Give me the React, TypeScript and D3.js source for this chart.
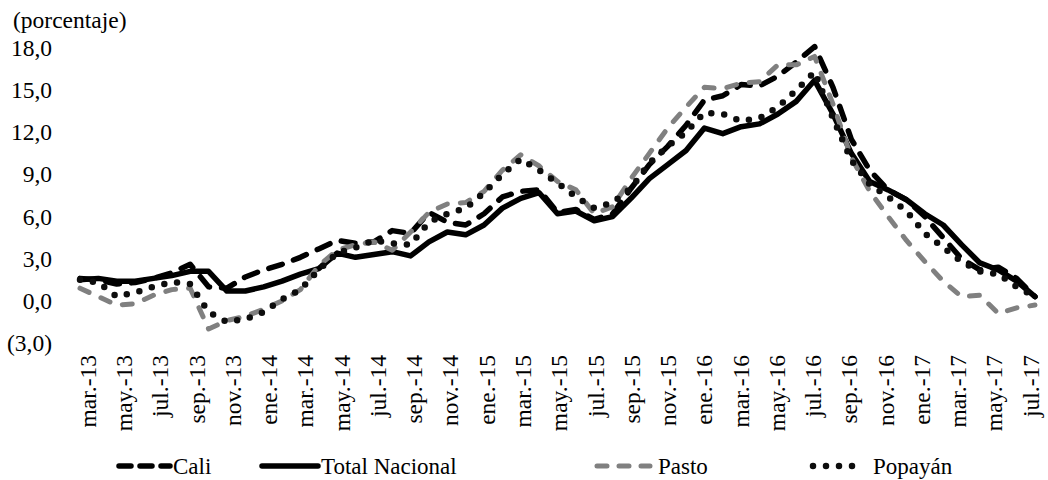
import React from "react";
import * as d3 from "d3";

const months: string[] = [
  "mar.-13","abr.-13","may.-13","jun.-13","jul.-13","ago.-13","sep.-13","oct.-13","nov.-13","dic.-13",
  "ene.-14","feb.-14","mar.-14","abr.-14","may.-14","jun.-14","jul.-14","ago.-14","sep.-14","oct.-14","nov.-14","dic.-14",
  "ene.-15","feb.-15","mar.-15","abr.-15","may.-15","jun.-15","jul.-15","ago.-15","sep.-15","oct.-15","nov.-15","dic.-15",
  "ene.-16","feb.-16","mar.-16","abr.-16","may.-16","jun.-16","jul.-16","ago.-16","sep.-16","oct.-16","nov.-16","dic.-16",
  "ene.-17","feb.-17","mar.-17","abr.-17","may.-17","jun.-17","jul.-17",
];

const tickLabels: string[] = months.filter((_, i) => i % 2 === 0);

const yTicks: number[] = [-3, 0, 3, 6, 9, 12, 15, 18];

const cali: number[] = [
  1.6, 1.5, 1.2, 1.3, 1.6, 2.0, 2.6, 1.0, 0.9, 1.7,
  2.2, 2.6, 3.1, 3.7, 4.3, 4.1, 4.2, 5.0, 4.8, 6.3, 5.6, 5.4,
  6.2, 7.4, 7.8, 7.9, 6.3, 6.5, 5.8, 6.2, 8.0, 9.7, 11.0, 12.5,
  14.3, 14.6, 15.4, 15.3, 16.0, 17.0, 18.1, 15.2, 11.5, 9.3, 7.9, 7.2,
  6.0, 4.5, 3.0, 2.2, 2.4, 1.6, 0.3,
];

const totalNacional: number[] = [
  1.5, 1.6, 1.4, 1.4, 1.6, 1.8, 2.1, 2.1, 0.7, 0.7,
  1.0, 1.4, 1.9, 2.3, 3.4, 3.1, 3.3, 3.5, 3.2, 4.2, 4.9, 4.7,
  5.4, 6.6, 7.3, 7.7, 6.2, 6.4, 5.7, 6.0, 7.3, 8.7, 9.7, 10.7,
  12.3, 11.9, 12.4, 12.6, 13.3, 14.2, 15.7, 13.3, 10.5, 8.5, 7.9, 7.2,
  6.2, 5.4, 4.0, 2.7, 2.2, 1.4, 0.3,
];

const pasto: number[] = [
  0.9, 0.3, -0.3, -0.2, 0.4, 0.8, 0.9, -2.0, -1.4, -1.1,
  -0.6, 0.0, 0.8, 2.5, 3.6, 4.0, 4.2, 3.6, 4.9, 6.3, 6.9, 7.0,
  7.8, 9.3, 10.4, 9.6, 8.5, 7.9, 6.2, 6.7, 8.7, 10.5, 12.3, 13.8,
  15.2, 15.1, 15.5, 15.6, 16.8, 16.8, 17.4, 14.0, 10.2, 7.8, 6.0, 4.3,
  2.8, 1.4, 0.3, 0.4, -0.9, -0.5, -0.3,
];

const popayan: number[] = [
  1.5, 1.3, 0.3, 0.6, 1.0, 1.35, 1.2, -0.8, -1.5, -1.3,
  -0.8, 0.1, 0.8, 2.2, 3.4, 3.8, 4.3, 4.1, 4.0, 5.6, 6.2, 6.6,
  7.7, 9.0, 10.1, 9.3, 8.4, 7.4, 6.6, 7.0, 8.0, 9.8, 11.0, 12.0,
  13.4, 13.3, 12.8, 13.0, 13.8, 15.0, 16.3, 13.0, 10.0, 8.3, 7.4, 6.4,
  4.8, 3.8, 2.8, 2.1, 1.9, 1.0, 0.3,
];

const seriesNames: string[] = ["Cali", "Total Nacional", "Pasto", "Popayán"];

const FONT = '"Liberation Serif", "DejaVu Serif", serif';

type Style = { stroke: string; width: number; dash?: string; legendDash?: string };
const styles: Style[] = [
  { stroke: "#000000", width: 5.5, dash: "14 12", legendDash: "12 9" },
  { stroke: "#000000", width: 5.5 },
  { stroke: "#808080", width: 5, dash: "10 13", legendDash: "10 12" },
  { stroke: "#0d0d0d", width: 6.5, dash: "0 13", legendDash: "0 13" },
];

const legendPos = [
  { x0: 119, x1: 170, tx: 173 },
  { x0: 262, x1: 318, tx: 321 },
  { x0: 597, x1: 650, tx: 658 },
  { x0: 813, x1: 865, tx: 873 },
];

export default function App() {
  const W = 1048;
  const H = 480;
  const x = d3.scaleLinear().domain([0, months.length - 1]).range([80, 1035]);
  const xLab = d3.scalePoint<string>().domain(tickLabels).range([88, 1031]);
  const y = d3.scaleLinear().domain([-3, 18]).range([343, 48]);

  const line = d3
    .line<number>()
    .x((_, i) => x(i))
    .y((d) => y(d));

  const data = [cali, totalNacional, pasto, popayan];

  const fmt = (v: number) => {
    const s = Math.abs(v).toFixed(1).replace(".", ",");
    return v < 0 ? `(${s})` : s;
  };

  const ts: React.CSSProperties = { fontFamily: FONT };

  return (
    <svg
      width={W}
      height={H}
      style={{ position: "absolute", left: 0, top: 0, background: "#fff", fontFamily: FONT }}
    >
      <rect x={0} y={0} width={W} height={H} fill="#fff" />
      <text x={13} y={28} fontSize={23.5} fill="#000" style={ts}>
        (porcentaje)
      </text>
      {yTicks.map((t) => (
        <text key={t} x={52} y={y(t)} dy="0.34em" textAnchor="end" fontSize={23.5} fill="#000" style={ts}>
          {fmt(t)}
        </text>
      ))}
      {tickLabels.map((l) => (
        <text
          key={l}
          transform={`translate(${xLab(l)},355) rotate(-90)`}
          textAnchor="end"
          dy="0.33em"
          fontSize={23.5}
          fill="#000"
          style={ts}
        >
          {l}
        </text>
      ))}
      {data.map((d, k) => (
        <path
          key={seriesNames[k]}
          d={line(d) || ""}
          fill="none"
          stroke={styles[k].stroke}
          strokeWidth={styles[k].width}
          strokeDasharray={styles[k].dash}
          strokeLinecap="round"
          strokeLinejoin="round"
        />
      ))}
      {seriesNames.map((n, k) => (
        <g key={n}>
          <line
            x1={legendPos[k].x0}
            x2={legendPos[k].x1}
            y1={466}
            y2={466}
            stroke={styles[k].stroke}
            strokeWidth={styles[k].width}
            strokeDasharray={styles[k].legendDash}
            strokeLinecap="round"
          />
          <text x={legendPos[k].tx} y={466} dy="0.33em" fontSize={23} fill="#000" style={ts}>
            {n}
          </text>
        </g>
      ))}
    </svg>
  );
}
